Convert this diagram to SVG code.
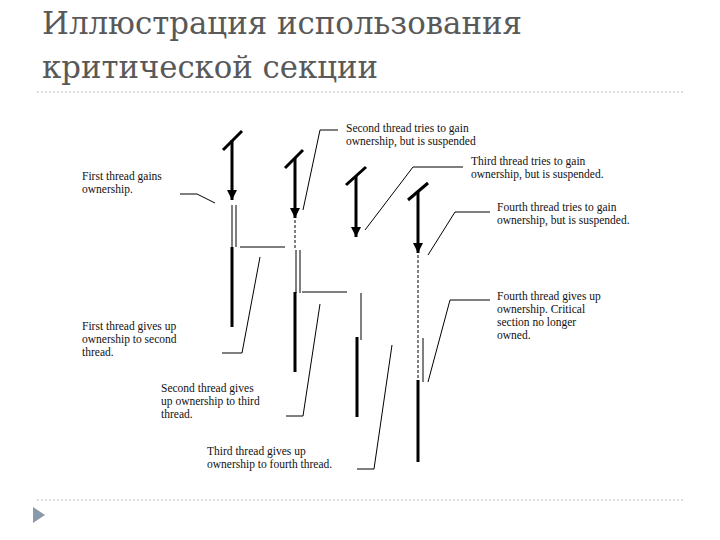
<svg xmlns="http://www.w3.org/2000/svg" width="720" height="540" viewBox="0 0 720 540">
<defs>
<marker id="ah" viewBox="0 0 10 10" refX="10" refY="5" markerWidth="3.5" markerHeight="3.5" orient="auto" markerUnits="strokeWidth"><path d="M0,0 L10,5 L0,10 z" fill="#000"/></marker>
</defs>
<style>
.title{font-family:"DejaVu Serif","Liberation Serif",serif;font-size:31px;fill:#595959}
.lbl{font-family:"Liberation Serif",serif;font-size:11.5px;fill:#111}
.thick{stroke:#000;stroke-width:3;fill:none}
.thin{stroke:#000;stroke-width:1;fill:none}
.dash{stroke:#000;stroke-width:1;stroke-dasharray:3,2;fill:none}
.slash{stroke:#000;stroke-width:3;fill:none}
.rule{stroke:#bbb;stroke-width:1;stroke-dasharray:2,2}
</style>
<rect width="720" height="540" fill="#fff"/>
<text class="title" x="42" y="34" textLength="480" lengthAdjust="spacingAndGlyphs">Иллюстрация использования</text>
<text class="title" x="42" y="78" textLength="336" lengthAdjust="spacingAndGlyphs">критической секции</text>
<line class="rule" x1="37" y1="92" x2="685" y2="92"/>
<line class="rule" x1="37" y1="500" x2="685" y2="500"/>
<path d="M33,507 L45,515 L33,523 z" fill="#8899aa"/>

<g id="thread1">
<line class="slash" x1="223" y1="150" x2="242" y2="131"/>
<line class="thick" x1="232" y1="140" x2="232" y2="200" marker-end="url(#ah)"/>
<line class="thin" x1="232" y1="205" x2="232" y2="247"/>
<line class="thin" x1="236" y1="205" x2="236" y2="247"/>
<line class="thick" x1="232" y1="247" x2="232" y2="327"/>
</g>
<g id="thread2">
<line class="slash" x1="285" y1="168" x2="303" y2="150"/>
<line class="thick" x1="295" y1="158" x2="295" y2="218" marker-end="url(#ah)"/>
<line class="dash" x1="295" y1="220" x2="295" y2="250"/>
<line class="thin" x1="296" y1="250" x2="296" y2="293"/>
<line class="thin" x1="300" y1="250" x2="300" y2="293"/>
<line class="thick" x1="295" y1="292" x2="295" y2="372"/>
</g>
<g id="thread3">
<line class="slash" x1="346" y1="185" x2="366" y2="167"/>
<line class="thick" x1="356" y1="176" x2="356" y2="237" marker-end="url(#ah)"/>
<line class="thin" x1="361" y1="293" x2="361" y2="340"/>
<line class="thick" x1="357" y1="337" x2="357" y2="417"/>
</g>
<g id="thread4">
<line class="slash" x1="408" y1="200" x2="428" y2="183"/>
<line class="thick" x1="418" y1="192" x2="418" y2="253" marker-end="url(#ah)"/>
<line class="dash" x1="418" y1="255" x2="418" y2="380"/>
<line class="thin" x1="423" y1="338" x2="423" y2="382"/>
<line class="thick" x1="418" y1="380" x2="418" y2="462"/>
</g>

<g id="connectors">
<line class="thin" x1="240" y1="247" x2="285" y2="247"/>
<line class="thin" x1="302" y1="292" x2="347" y2="292"/>
<polyline class="thin" points="180,194 197,194 215,203"/>
<polyline class="thin" points="338,130 320,130 303,210"/>
<polyline class="thin" points="463,167 413,167 365,230"/>
<polyline class="thin" points="490,212 455,212 428,255"/>
<polyline class="thin" points="490,300 450,300 428,382"/>
<polyline class="thin" points="222,353 242,353 260,257"/>
<polyline class="thin" points="286,416 303,416 320,304"/>
<polyline class="thin" points="357,469 374,469 392,345"/>
</g>

<g id="labels">
<text class="lbl" x="346" y="132">Second thread tries to gain</text>
<text class="lbl" x="346" y="145">ownership, but is suspended</text>
<text class="lbl" x="471" y="165">Third thread tries to gain</text>
<text class="lbl" x="471" y="178">ownership, but is suspended.</text>
<text class="lbl" x="497" y="211">Fourth thread tries to gain</text>
<text class="lbl" x="497" y="224">ownership, but is suspended.</text>
<text class="lbl" x="82" y="180">First thread gains</text>
<text class="lbl" x="82" y="193">ownership.</text>
<text class="lbl" x="497" y="300">Fourth thread gives up</text>
<text class="lbl" x="497" y="313">ownership. Critical</text>
<text class="lbl" x="497" y="326">section no longer</text>
<text class="lbl" x="497" y="339">owned.</text>
<text class="lbl" x="82" y="330">First thread gives up</text>
<text class="lbl" x="82" y="343">ownership to second</text>
<text class="lbl" x="82" y="356">thread.</text>
<text class="lbl" x="161" y="392">Second thread gives</text>
<text class="lbl" x="161" y="405">up ownership to third</text>
<text class="lbl" x="161" y="418">thread.</text>
<text class="lbl" x="207" y="455">Third thread gives up</text>
<text class="lbl" x="207" y="468">ownership to fourth thread.</text>
</g>
</svg>
